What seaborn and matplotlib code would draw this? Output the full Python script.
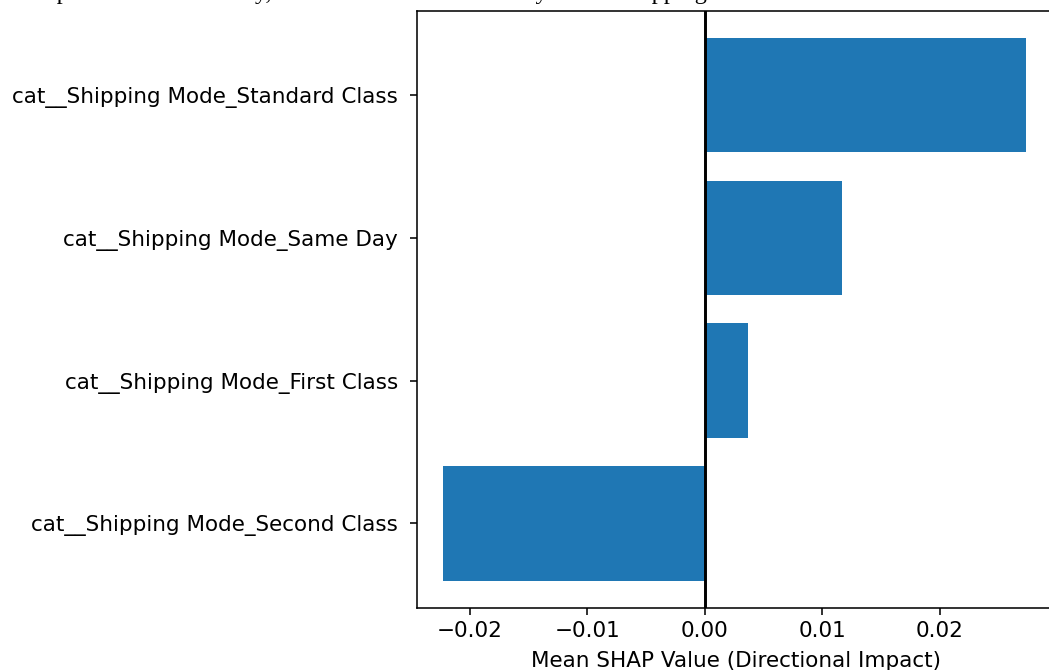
import matplotlib
matplotlib.use('Agg')
import matplotlib.pyplot as plt
import seaborn as sns

# данные: средние SHAP-значения по режимам доставки (сверху вниз)
categories = [
    'cat__Shipping Mode_Standard Class',
    'cat__Shipping Mode_Same Day',
    'cat__Shipping Mode_First Class',
    'cat__Shipping Mode_Second Class',
]
shap_values = [0.02738, 0.0117, 0.00368, -0.02223]

caption = 'Impact on Late Delivery, Measured Net Directionally across Shipping Mode'

DPI = 141
plt.rcParams['font.size'] = 11
fig = plt.figure(figsize=(1049 / DPI, 670 / DPI), dpi=DPI)
ax = fig.add_axes([0.3972, 0.0930, 0.6095, 0.891])

sns.barplot(x=shap_values, y=categories, orient='h', color='#1f77b4',
            saturation=1, width=0.8, linewidth=0, ax=ax)
ax.axvline(x=0, color='black', linewidth=1.5)

ax.set_xlim(-0.0245, 0.0299)
ax.set_ylim(3.59, -0.59)
ax.set_xlabel('Mean SHAP Value (Directional Impact)', labelpad=5)
ax.set_ylabel('')
ax.tick_params(axis='y', pad=6)

# обрезанная подпись сверху (видны только нижние выносные элементы)
fig.text(30 / 1049, 1 + 1 / 670, caption, family='Liberation Serif',
         fontsize=12.3, ha='left', va='baseline')

fig.savefig('out.png', dpi=DPI)
plt.close(fig)
